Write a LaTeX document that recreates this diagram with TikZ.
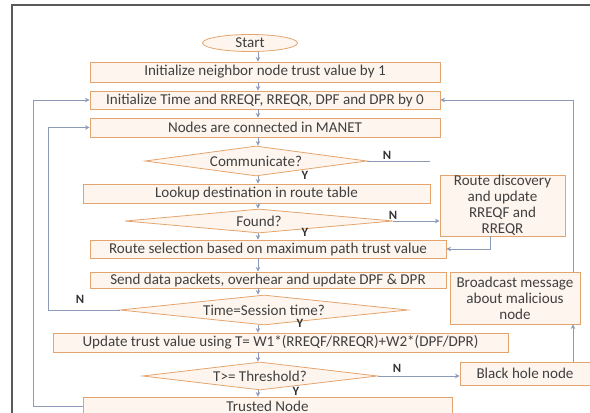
\documentclass[tikz,border=0pt]{standalone}
\usepackage{fontspec}
\setmainfont{Carlito}
\usetikzlibrary{shapes.geometric,arrows.meta,calc}
\definecolor{boxline}{HTML}{E3A46E}
\definecolor{boxfill}{HTML}{FEF6EE}
\definecolor{txt}{HTML}{404040}
\definecolor{conn}{HTML}{8C9CB8}
\definecolor{framec}{HTML}{5A5A5A}
\begin{document}
\begin{tikzpicture}[x=0.75pt,y=-0.75pt,
  font=\fontsize{11.3}{12}\selectfont, text=txt,
  pbox/.style 2 args={draw=boxline, fill=boxfill, line width=0.6pt,
    minimum width=#1*0.75pt, minimum height=#2*0.75pt, inner sep=0pt, align=center},
  pdia/.style 2 args={diamond, draw=boxline, fill=boxfill, line width=0.6pt,
    minimum width=#1*0.75pt, minimum height=#2*0.75pt, inner sep=0pt},
  arr/.style={draw=conn, line width=0.6pt, -{Stealth[length=3.5pt,width=3.5pt]}},
  ln/.style={draw=conn, line width=0.6pt},
  lab/.style={font=\fontsize{9.5}{10}\selectfont\bfseries, text=black!80}]
\path[use as bounding box] (0,0) rectangle (590,413);
\draw[framec, line width=1.2pt] (12,413) -- (12,5) -- (590,5);

\node[ellipse, draw=boxline, fill=boxfill, line width=0.6pt, minimum width=95*0.75pt,
  minimum height=17*0.75pt, inner sep=0pt] (start) at (250,43) {Start};
\node[pbox={350}{20}] (b1) at (265,72) {Initialize neighbor node trust value by 1};
\node[pbox={350}{18}] (b2) at (265,100) {Initialize Time and RREQF, RREQR, DPF and DPR by 0};
\node[pbox={350}{19}] (b3) at (265,127.5) {Nodes are connected in MANET};
\node[pdia={222}{30}, aspect=7.4] (d1) at (256,161) {Communicate?};
\node[pbox={347}{19}] (b4) at (256.5,193.5) {Lookup destination in route table};
\node[pdia={268}{24}, aspect=11.2] (d2) at (259,221) {Found?};
\node[pbox={125}{61}] (rd) at (502.5,205.5) {Route discovery\\and update\\RREQF and\\RREQR};
\node[pbox={356}{18}] (b5) at (268,249) {Route selection based on maximum path trust value};
\node[pbox={356}{16}] (b6) at (268,280) {Send data packets, overhear and update DPF \& DPR};
\node[pbox={130}{52}] (bc) at (515,298) {Broadcast message\\about malicious\\node};
\node[pdia={288}{30}, aspect=9.6] (d3) at (264,310) {Time=Session time?};
\node[pbox={455}{19}] (b7) at (280.5,342.5) {Update trust value using T= W1*(RREQF/RREQR)+W2*(DPF/DPR)};
\node[pdia={235}{28}, aspect=8.4] (d4) at (260,376) {T>= Threshold?};
\node[pbox={130}{23}] (bh) at (525,373.5) {Black hole node};
\node[pbox={369}{18}] (b8) at (267.5,406) {Trusted Node};

\coordinate (mx) at (258,0);
\coordinate (ix) at (48,0);
\coordinate (ox) at (33,0);
\coordinate (rx) at (573,0);
\coordinate (rdx) at (490,0);
\coordinate (n1) at (430,161);

\draw[arr] (start.south -| mx) -- (b1.north -| mx);
\draw[arr] (b1.south -| mx) -- (b2.north -| mx);
\draw[arr] (b2.south -| mx) -- (b3.north -| mx);
\draw[arr] (b3.south -| mx) -- (d1.north -| mx);
\draw[arr] (d1.south -| mx) -- (b4.north -| mx);
\draw[arr] (b4.south -| mx) -- (d2.north -| mx);
\draw[arr] (d2.south -| mx) -- (b5.north -| mx);
\draw[arr] (b5.south -| mx) -- (b6.north -| mx);
\draw[arr] (b6.south -| mx) -- (d3.north -| mx);
\draw[arr] (d3.south -| mx) -- (b7.north -| mx);
\draw[arr] (b7.south -| mx) -- (d4.north -| mx);
\draw[arr] (d4.south -| mx) -- (b8.north -| mx);

\draw[ln] (d1.east) -- (n1);
\draw[arr] (d2.east) -- (d2.east -| rd.west);
\draw[arr] (rd.south -| rdx) |- (b5.east);
\draw[arr] (d4.east) -- (d4.east -| bh.west);
\draw[arr] (bh.north -| rx) -- (bc.south -| rx);
\draw[arr] (bc.north -| rx) |- (b2.east);
\draw[arr] (d3.west) -- (d3.west -| ix) |- (b3.west);
\draw[arr] (b8.west) -- (b8.west -| ox) |- (b2.west);

\node[lab] (y1) at (305,175) {Y};
\node[lab] (y2) at (305,232) {Y};
\node[lab] (y3) at (300,323) {Y};
\node[lab] (y4) at (296,391) {Y};
\node[lab] (nl1) at (387,155) {N};
\node[lab] (nl2) at (393,215) {N};
\node[lab] (nl3) at (80,299) {N};
\node[lab] (nl4) at (397,368) {N};
\end{tikzpicture}
\end{document}
